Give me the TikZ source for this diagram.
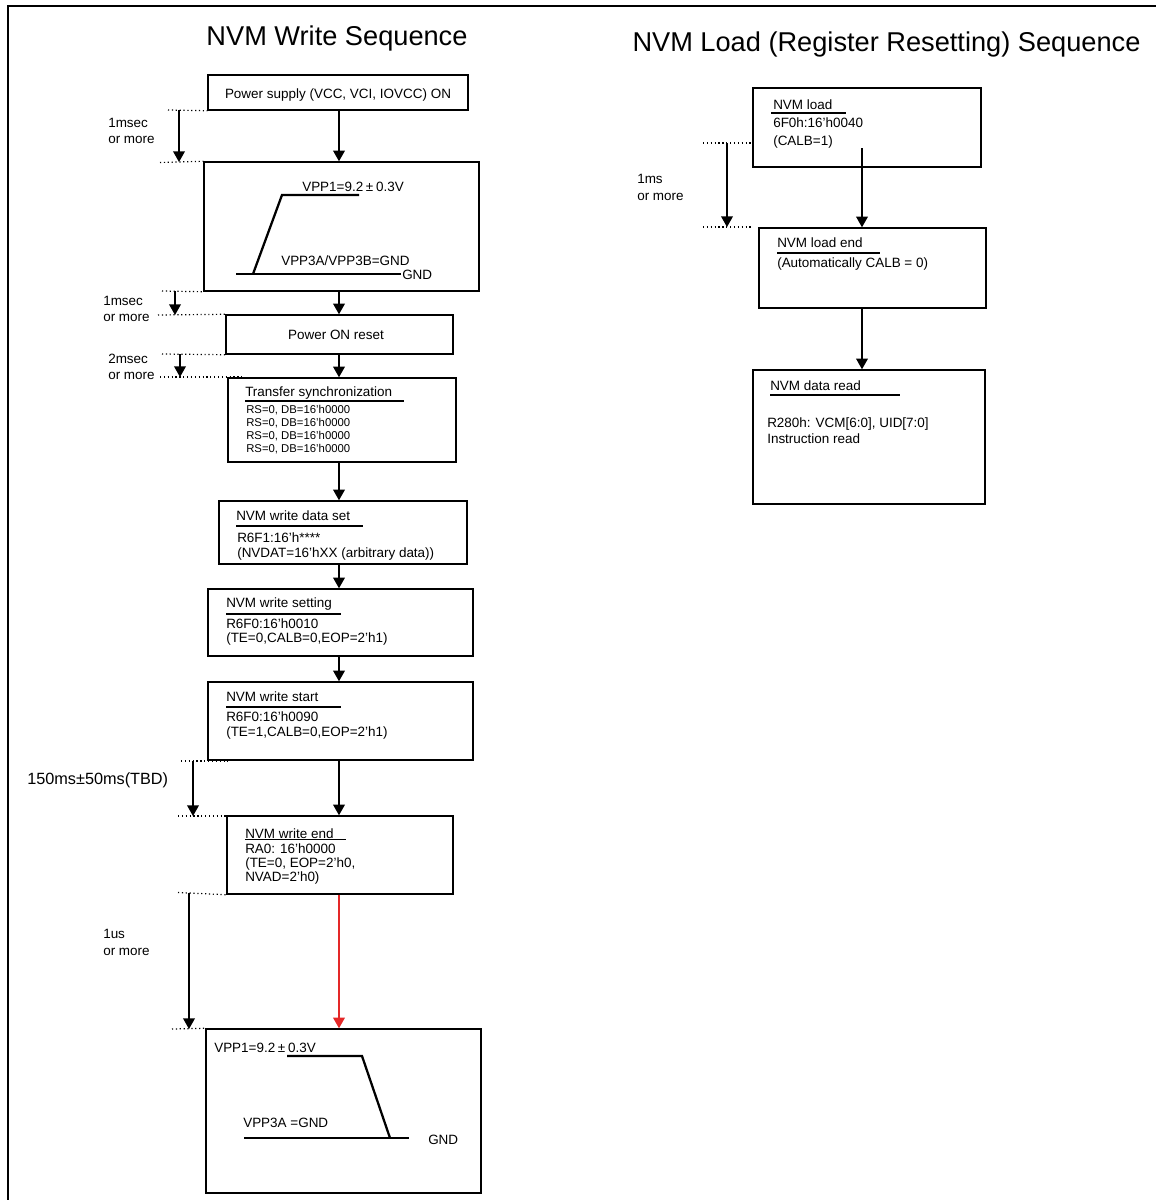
\documentclass[tikz,border=0pt]{standalone}
\usepackage{fontspec}
\setmainfont{Liberation Sans}
\usetikzlibrary{arrows.meta,fit}
\begin{document}
\begin{tikzpicture}[x=0.75pt,y=-0.75pt,
  box/.style={draw,line width=1.1pt,inner sep=0pt},
  txt/.style={inner sep=0pt,anchor=west,font=\fontsize{10.1}{12}\selectfont,text height=7.2pt,text depth=0.1pt},
  ctxt/.style={txt,anchor=center},
  small/.style={inner sep=0pt,anchor=west,font=\fontsize{8.5}{10}\selectfont,text height=6.1pt,text depth=0.1pt},
  big/.style={inner sep=0pt,anchor=west,font=\fontsize{12.2}{14}\selectfont,text height=8.8pt,text depth=0.1pt},
  ttl/.style={inner sep=0pt,anchor=base,font=\fontsize{20.4}{24}\selectfont},
  arr/.style={line width=1pt,-{Triangle[width=8.8pt,length=8pt]}},
  redarr/.style={arr,draw={rgb,255:red,228;green,40;blue,40},fill={rgb,255:red,228;green,40;blue,40}},
  dots/.style={line width=0.9pt,dotted},
  wave/.style={line width=1.7pt},
  uline/.style={line width=0.9pt}]
\useasboundingbox (0,0) rectangle (1156,1200);
% frame
\draw[line width=1.8pt] (8,1200) -- (8,6) -- (1156,6);
% titles
\node[ttl] (T1) at (337,45.7) {NVM Write Sequence};
\node[ttl] (T2) at (886.5,51.2) {NVM Load (Register Resetting) Sequence};

% boxes left
\node[box,fit={(208,75) (468,110)}] (b1) {};
\node[box,fit={(204,162) (479,291)}] (b2) {};
\node[box,fit={(226,315) (453,354)}] (b3) {};
\node[box,fit={(228,378) (456,462)}] (b4) {};
\node[box,fit={(219,501) (467,564)}] (b5) {};
\node[box,fit={(208,589) (473,656)}] (b6) {};
\node[box,fit={(208,682) (473,760)}] (b7) {};
\node[box,fit={(227,816) (453,894)}] (b8) {};
\node[box,fit={(206,1029) (481,1193)}] (b9) {};
% boxes right
\node[box,fit={(753,88) (981,167)}] (r1) {};
\node[box,fit={(759,228) (986,308)}] (r2) {};
\node[box,fit={(753,370) (985,504)}] (r3) {};

% box texts
\node[ctxt] (t1) at (338,93.5) {Power supply (VCC, VCI, IOVCC) ON};

\node[txt] (t2a) at (302,187) {VPP1=9.2\kern0.2em±\kern0.2em0.3V};
\node[txt] (t2b) at (281,261) {VPP3A/VPP3B=GND};
\node[txt] (t2c) at (402,274.5) {GND};
\draw[wave] (236,274) -- (401,274);
\draw[wave] (253,274) -- (282,195) -- (359,195);

\node[ctxt] (t3) at (336,335) {Power ON reset};

\node[txt] (t4) at (245,392) {Transfer synchronization};
\draw[uline] (245,401) -- (404,401);
\node[small] (t4a) at (246,409) {RS=0, DB=16'h0000};
\node[small] (t4b) at (246,422) {RS=0, DB=16'h0000};
\node[small] (t4c) at (246,435) {RS=0, DB=16'h0000};
\node[small] (t4d) at (246,448) {RS=0, DB=16'h0000};

\node[txt] (t5) at (236,516) {NVM write data set};
\draw[uline] (236,526) -- (363,526);
\node[txt] (t5a) at (237,538) {R6F1:16'h****};
\node[txt] (t5b) at (237,552.5) {(NVDAT=16'hXX (arbitrary data))};

\node[txt] (t6) at (226,603) {NVM write setting};
\draw[uline] (226,614) -- (341,614);
\node[txt] (t6a) at (226,624) {R6F0:16'h0010};
\node[txt] (t6b) at (226,638) {(TE=0,CALB=0,EOP=2'h1)};

\node[txt] (t7) at (226,697) {NVM write start};
\draw[uline] (226,707) -- (341,707);
\node[txt] (t7a) at (226,717) {R6F0:16'h0090};
\node[txt] (t7b) at (226,732) {(TE=1,CALB=0,EOP=2'h1)};

\node[txt] (t8) at (245,834) {NVM write end};
\draw[uline] (245,839.5) -- (346,839.5);
\node[txt] (t8a) at (245,849) {RA0: 16'h0000};
\node[txt] (t8b) at (245,863) {(TE=0, EOP=2'h0,};
\node[txt] (t8c) at (245,877) {NVAD=2'h0)};

\node[txt] (t9a) at (214,1048) {VPP1=9.2\kern0.2em±\kern0.2em0.3V};
\node[txt] (t9b) at (243,1123) {VPP3A =GND};
\node[txt] (t9c) at (428,1140) {GND};
\draw[wave] (287,1056) -- (362,1056) -- (390,1138);
\draw[wave] (244,1138) -- (409,1138);

\node[txt] (s1) at (773,105) {NVM load};
\draw[uline] (771,113) -- (846,113);
\node[txt] (s1a) at (773,123) {6F0h:16'h0040};
\node[txt] (s1b) at (773,141) {(CALB=1)};

\node[txt] (s2) at (777,243) {NVM load end};
\draw[uline] (777,253) -- (880,253);
\node[txt] (s2a) at (777,263) {(Automatically CALB = 0)};

\node[txt] (s3) at (770,386) {NVM data read};
\draw[uline] (770,395) -- (900,395);
\node[txt] (s3a) at (767,423) {R280h: VCM[6:0], UID[7:0]};
\node[txt] (s3b) at (767,439) {Instruction read};

% main flow arrows
\coordinate (mx) at (339,0);
\draw[arr] (b1.south -| mx) -- (b2.north -| mx);
\draw[arr] (b2.south -| mx) -- (b3.north -| mx);
\draw[arr] (b3.south -| mx) -- (b4.north -| mx);
\draw[arr] (b4.south -| mx) -- (b5.north -| mx);
\draw[arr] (b5.south -| mx) -- (b6.north -| mx);
\draw[arr] (b6.south -| mx) -- (b7.north -| mx);
\draw[arr] (b7.south -| mx) -- (b8.north -| mx);
\draw[redarr] (b8.south -| mx) -- (b9.north -| mx);

\coordinate (rx) at (862,0);
\coordinate (r1s) at (862,148);
\draw[arr] (r1s) -- (r2.north -| rx);
\draw[arr] (r2.south -| rx) -- (r3.north -| rx);

% timing markers
\coordinate (d1a) at (168,110); \coordinate (d1b) at (160,162.5);
\draw[dots] (d1a) -- (b1.south west);
\draw[dots] (d1b) -- (b2.north west);
\coordinate (a1a) at (179,110); \coordinate (a1b) at (179,162);
\draw[arr] (a1a) -- (a1b);
\node[txt] (l1a) at (108,123) {1msec};
\node[txt] (l1b) at (108,139) {or more};

\coordinate (d2a) at (162,291); \coordinate (d2b) at (158,315);
\draw[dots] (d2a) -- (b2.south west);
\draw[dots] (d2b) -- (b3.north west);
\coordinate (a2a) at (175,291); \coordinate (a2b) at (175,315);
\draw[arr] (a2a) -- (a2b);
\node[txt] (l2a) at (103,301) {1msec};
\node[txt] (l2b) at (103,317) {or more};

\coordinate (d3a) at (162,354); \coordinate (d3b) at (160,377); \coordinate (d3c) at (244,377);
\draw[dots] (d3a) -- (b3.south west);
\draw[dots] (d3b) -- (d3c);
\coordinate (a3a) at (180,354); \coordinate (a3b) at (180,377);
\draw[arr] (a3a) -- (a3b);
\node[txt] (l3a) at (108,359) {2msec};
\node[txt] (l3b) at (108,375) {or more};

\coordinate (d4a) at (181,761); \coordinate (d4b) at (228,761);
\coordinate (d4c) at (178,816); \coordinate (d4d) at (228,816);
\draw[dots] (d4a) -- (d4b);
\draw[dots] (d4c) -- (d4d);
\coordinate (a4a) at (193,761); \coordinate (a4b) at (193,816);
\draw[arr] (a4a) -- (a4b);
\node[big] (l4) at (27,779) {150ms±50ms(TBD)};

\coordinate (d5a) at (178,892.5); \coordinate (d5b) at (172,1029);
\draw[dots] (d5a) -- (b8.south west);
\draw[dots] (d5b) -- (b9.north west);
\coordinate (a5a) at (189,892.5); \coordinate (a5b) at (189,1029);
\draw[arr] (a5a) -- (a5b);
\node[txt] (l5a) at (103,934) {1us};
\node[txt] (l5b) at (103,951) {or more};

\coordinate (e1a) at (703,143); \coordinate (e1b) at (751,143);
\coordinate (e1c) at (703,227); \coordinate (e1d) at (752,227);
\draw[dots] (e1a) -- (e1b);
\draw[dots] (e1c) -- (e1d);
\coordinate (f1a) at (727,143); \coordinate (f1b) at (727,227);
\draw[arr] (f1a) -- (f1b);
\node[txt] (m1a) at (637,179) {1ms};
\node[txt] (m1b) at (637,196) {or more};
\end{tikzpicture}
\end{document}
